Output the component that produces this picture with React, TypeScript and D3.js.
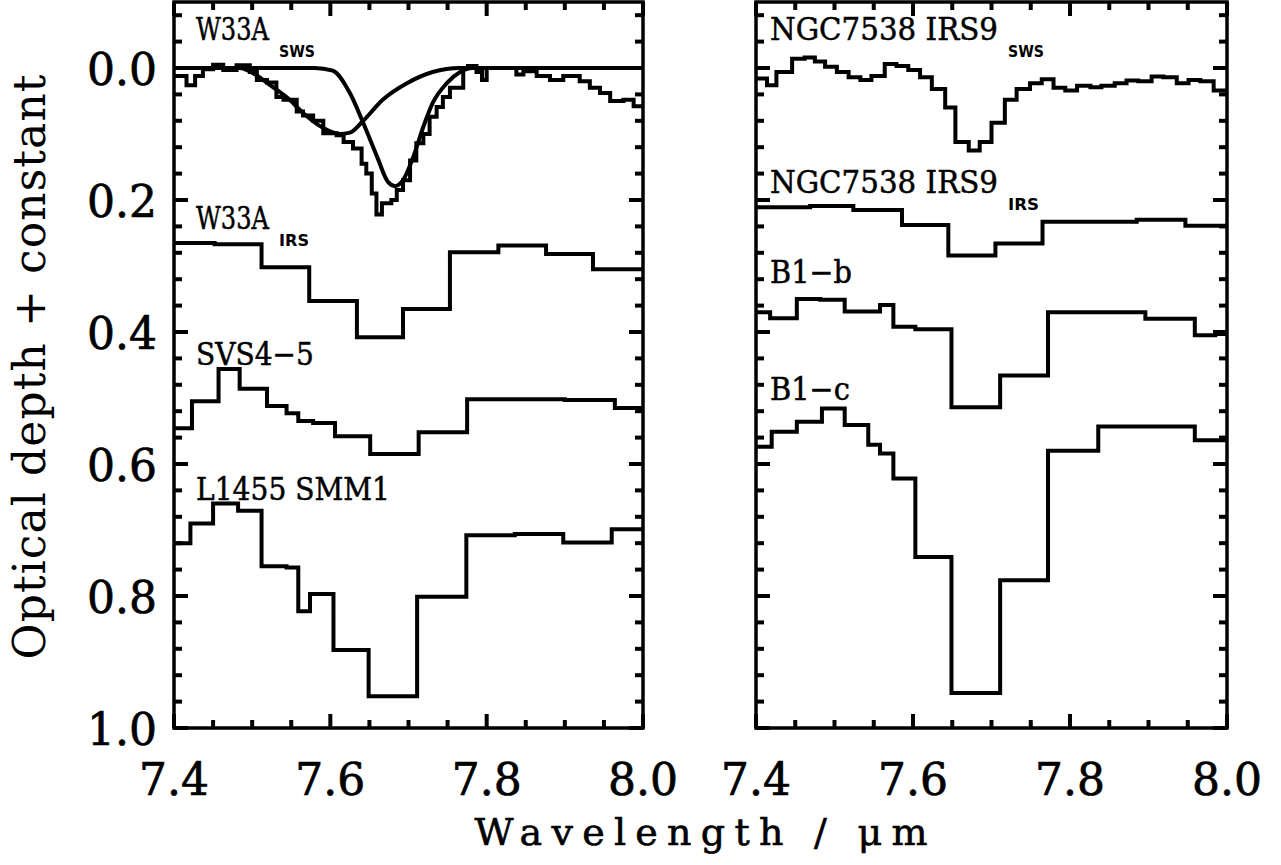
import * as d3 from 'd3';

// ---- axis ticks ----
const xMajorTicks = [7.4, 7.6, 7.8, 8.0];
const xTickLabels = ['7.4', '7.6', '7.8', '8.0'];
const xMinorTicks = [7.45, 7.5, 7.55, 7.65, 7.7, 7.75, 7.85, 7.9, 7.95];
const yMajorTicks = [0, 0.2, 0.4, 0.6, 0.8, 1.0];
const yTickLabels = ['0.0', '0.2', '0.4', '0.6', '0.8', '1.0'];
const yMinorTicks = [-0.08, -0.04, 0.04, 0.08, 0.12, 0.16, 0.24, 0.28, 0.32, 0.36, 0.44, 0.48, 0.52, 0.56, 0.64, 0.68, 0.72, 0.76, 0.84, 0.88, 0.92, 0.96];

// ---- left panel spectra (bin edges + optical depth) ----
const w33aSwsEdges = [7.400, 7.416, 7.427, 7.437, 7.450, 7.463, 7.480, 7.497, 7.506, 7.519, 7.531, 7.540, 7.557, 7.565, 7.578, 7.591, 7.608, 7.617, 7.629, 7.640, 7.646, 7.653, 7.659, 7.666, 7.678, 7.685, 7.693, 7.702, 7.710, 7.719, 7.727, 7.736, 7.744, 7.753, 7.770, 7.776, 7.787, 7.794, 7.800, 7.838, 7.847, 7.864, 7.881, 7.898, 7.919, 7.932, 7.945, 7.958, 7.975, 7.988, 8.000];
const w33aSwsTau = [0.012, 0.026, 0.012, 0.002, -0.005, 0.003, -0.004, 0.006, 0.018, 0.022, 0.044, 0.048, 0.066, 0.072, 0.080, 0.099, 0.102, 0.112, 0.122, 0.145, 0.160, 0.190, 0.222, 0.205, 0.200, 0.185, 0.170, 0.140, 0.114, 0.100, 0.074, 0.059, 0.044, 0.030, 0.000, -0.003, 0.006, 0.018, 0.000, 0.010, 0.005, 0.012, 0.018, 0.012, 0.020, 0.030, 0.038, 0.050, 0.048, 0.058];

// fit components over W33A SWS
const broadFitWave = [7.400, 7.484, 7.497, 7.523, 7.548, 7.565, 7.591, 7.612, 7.625, 7.642, 7.667, 7.698, 7.731, 7.766, 8.000];
const broadFitTau = [0, 0, 0.005, 0.026, 0.048, 0.068, 0.091, 0.100, 0.098, 0.080, 0.048, 0.023, 0.006, 0, 0];
const narrowFitWave = [7.400, 7.580, 7.603, 7.625, 7.642, 7.660, 7.674, 7.683, 7.693, 7.706, 7.719, 7.731, 7.749, 7.766, 7.782, 8.000];
const narrowFitTau = [0, 0, 0.004, 0.038, 0.083, 0.135, 0.173, 0.179, 0.170, 0.135, 0.089, 0.053, 0.023, 0.006, 0, 0];

const w33aIrsEdges = [7.400, 7.452, 7.512, 7.573, 7.634, 7.693, 7.753, 7.815, 7.876, 7.936, 8.000];
const w33aIrsTau = [0.265, 0.267, 0.302, 0.353, 0.408, 0.365, 0.279, 0.269, 0.282, 0.305];

const svs45Edges = [7.400, 7.423, 7.457, 7.484, 7.519, 7.544, 7.559, 7.578, 7.606, 7.651, 7.713, 7.775, 7.900, 7.964, 8.000];
const svs45Tau = [0.546, 0.505, 0.456, 0.486, 0.512, 0.523, 0.535, 0.538, 0.558, 0.585, 0.552, 0.502, 0.503, 0.515];

const l1455Edges = [7.400, 7.421, 7.450, 7.482, 7.512, 7.544, 7.559, 7.574, 7.604, 7.649, 7.711, 7.774, 7.836, 7.898, 7.960, 8.000];
const l1455Tau = [0.720, 0.690, 0.660, 0.671, 0.755, 0.757, 0.823, 0.797, 0.882, 0.952, 0.801, 0.708, 0.706, 0.719, 0.699];

// ---- right panel spectra ----
const ngcSwsEdges = [7.400, 7.414, 7.426, 7.446, 7.462, 7.475, 7.488, 7.503, 7.518, 7.533, 7.547, 7.564, 7.579, 7.594, 7.609, 7.624, 7.641, 7.654, 7.671, 7.685, 7.700, 7.717, 7.732, 7.749, 7.764, 7.779, 7.794, 7.809, 7.826, 7.840, 7.857, 7.872, 7.887, 7.904, 7.919, 7.936, 7.951, 7.966, 7.983, 8.000];
const ngcSwsTau = [0.016, 0.026, 0.006, -0.014, -0.016, -0.010, -0.002, 0.006, 0.014, 0.018, 0.012, -0.006, -0.003, 0.003, 0.014, 0.032, 0.060, 0.112, 0.125, 0.112, 0.083, 0.048, 0.032, 0.023, 0.017, 0.030, 0.034, 0.027, 0.029, 0.027, 0.023, 0.019, 0.020, 0.013, 0.014, 0.023, 0.018, 0.020, 0.034];

const ngcIrsEdges = [7.400, 7.469, 7.524, 7.586, 7.645, 7.705, 7.765, 7.885, 7.947, 8.000];
const ngcIrsTau = [0.211, 0.209, 0.215, 0.238, 0.284, 0.266, 0.233, 0.230, 0.239];

const b1bEdges = [7.400, 7.418, 7.452, 7.482, 7.513, 7.558, 7.575, 7.603, 7.649, 7.711, 7.772, 7.834, 7.896, 7.959, 7.985, 8.000];
const b1bTau = [0.370, 0.379, 0.350, 0.351, 0.369, 0.359, 0.392, 0.396, 0.514, 0.466, 0.370, 0.370, 0.380, 0.405, 0.403];

const b1cEdges = [7.400, 7.420, 7.452, 7.484, 7.513, 7.543, 7.558, 7.575, 7.603, 7.649, 7.711, 7.772, 7.836, 7.898, 7.959, 8.000];
const b1cTau = [0.574, 0.551, 0.536, 0.516, 0.541, 0.571, 0.584, 0.622, 0.741, 0.947, 0.776, 0.580, 0.543, 0.543, 0.564];

// ---- source labels ----
const leftNames = ['W33A', 'W33A', 'SVS4\u22125', 'L1455  SMM1'];
const leftSubs = ['SWS', 'IRS', '', ''];
const rightNames = ['NGC7538  IRS9', 'NGC7538  IRS9', 'B1\u2212b', 'B1\u2212c'];
const rightSubs = ['SWS', 'IRS', '', ''];

// label layout: baseline in tau units, widths in px
const leftLabelLayout = [
  { tau: -0.042, w: 73, subW: 36 },
  { tau: 0.244, w: 73, subW: 30 },
  { tau: 0.45, w: 118, subW: 0 },
  { tau: 0.655, w: 194, subW: 0 },
];
const rightLabelLayout = [
  { tau: -0.042, w: 228, subW: 36 },
  { tau: 0.189, w: 228, subW: 31 },
  { tau: 0.326, w: 82, subW: 0 },
  { tau: 0.503, w: 80, subW: 0 },
];

const W = 1281;
const H = 865;
const TOP = 2;
const BOTTOM = 728;
const SERIF = '"DejaVu Serif", "Liberation Serif", serif';
const PANELS = [
  { id: 'clipL', x0: 174, x1: 643 },
  { id: 'clipR', x0: 756, x1: 1227 },
];

const yScale = d3.scaleLinear().domain([-0.1, 1.0]).range([TOP, BOTTOM]);
const xScaleFor = (x0: number, x1: number) => d3.scaleLinear().domain([7.4, 8.0]).range([x0, x1]);

// mirrored tick marks of one panel, as small filled bars
function tickBarsFor(x0: number, x1: number) {
  const x = xScaleFor(x0, x1);
  const y = yScale;
  const majorLen = 14;
  const minorLen = 8;
  const tw = 4;
  const bars: { x: number; y: number; w: number; h: number }[] = [];
  const addX = (t: number, len: number) => {
    bars.push({ x: x(t) - tw / 2, y: BOTTOM - len, w: tw, h: len });
    bars.push({ x: x(t) - tw / 2, y: TOP, w: tw, h: len });
  };
  const addY = (t: number, len: number) => {
    bars.push({ x: x0, y: y(t) - tw / 2, w: len, h: tw });
    bars.push({ x: x1 - len, y: y(t) - tw / 2, w: len, h: tw });
  };
  xMajorTicks.forEach((t) => addX(t, majorLen));
  xMinorTicks.forEach((t) => addX(t, minorLen));
  yMajorTicks.forEach((t) => addY(t, majorLen));
  yMinorTicks.forEach((t) => addY(t, minorLen));
  return bars;
}

type PanelProps = {
  id: string;
  x0: number;
  x1: number;
  steps: { edges: number[]; tau: number[] }[];
  curves: { wave: number[]; tau: number[] }[];
  names: string[];
  subs: string[];
  layout: { tau: number; w: number; subW: number }[];
  labelOffset: number;
  showYLabels: boolean;
};

function Panel({ id, x0, x1, steps, curves, names, subs, layout, labelOffset, showYLabels }: PanelProps) {
  const x = xScaleFor(x0, x1);
  const y = yScale;

  const stepLine = d3
    .line<[number, number]>()
    .x((d) => x(d[0]))
    .y((d) => y(d[1]))
    .curve(d3.curveStepAfter);

  const smoothLine = d3
    .line<[number, number]>()
    .x((d) => x(d[0]))
    .y((d) => y(d[1]))
    .curve(d3.curveMonotoneX);

  return (
    <g>
      <defs>
        <clipPath id={id}>
          <rect x={x0} y={TOP} width={x1 - x0} height={BOTTOM - TOP} />
        </clipPath>
      </defs>

      <g clipPath={`url(#${id})`} fill="none" stroke="#000" strokeWidth={4}>
        {curves.map((c, i) => (
          <path key={'c' + i} d={smoothLine(c.wave.map((w, j) => [w, c.tau[j]] as [number, number])) || ''} />
        ))}
        {steps.map((s, i) => {
          const pts: [number, number][] = s.tau.map((t, j) => [s.edges[j], t]);
          pts.push([s.edges[s.edges.length - 1], s.tau[s.tau.length - 1]]);
          return <path key={'s' + i} d={stepLine(pts) || ''} />;
        })}
      </g>

      {/* tick labels */}
      {xMajorTicks.map((t, i) => (
        <text key={'xl' + t} x={x(t)} y={795} textAnchor="middle" fontFamily={SERIF} fontSize={44} stroke="#000" strokeWidth={0.7}>
          {xTickLabels[i]}
        </text>
      ))}
      {showYLabels &&
        yMajorTicks.map((t, i) => (
          <text key={'yl' + t} x={x0 - 17} y={y(t) + 17} textAnchor="end" fontFamily={SERIF} fontSize={44} stroke="#000" strokeWidth={0.7}>
            {yTickLabels[i]}
          </text>
        ))}

      {/* source labels */}
      {names.map((n, i) => {
        const L = layout[i];
        const bx = x0 + labelOffset;
        const by = y(L.tau);
        return (
          <g key={'n' + i}>
            <text x={bx} y={by} fontFamily={SERIF} fontSize={31} textLength={L.w} lengthAdjust="spacingAndGlyphs" stroke="#000" strokeWidth={0.5}>
              {n}
            </text>
            {subs[i] && (
              <text
                x={bx + L.w + 10}
                y={by + 17}
                fontFamily='"DejaVu Sans", sans-serif'
                fontWeight="bold"
                fontSize={16}
                textLength={L.subW}
                lengthAdjust="spacingAndGlyphs"
              >
                {subs[i]}
              </text>
            )}
          </g>
        );
      })}
    </g>
  );
}

export default function App() {
  return (
    <div style={{ position: 'absolute', left: 0, top: 0, width: W, height: H, background: '#fff' }}>
      <svg width={W} height={H} viewBox={`0 0 ${W} ${H}`} style={{ display: 'block' }}>
        <rect width={W} height={H} fill="#fff" />
        <Panel
          id="clipL"
          x0={174}
          x1={643}
          steps={[
            { edges: w33aSwsEdges, tau: w33aSwsTau },
            { edges: w33aIrsEdges, tau: w33aIrsTau },
            { edges: svs45Edges, tau: svs45Tau },
            { edges: l1455Edges, tau: l1455Tau },
          ]}
          curves={[
            { wave: broadFitWave, tau: broadFitTau },
            { wave: narrowFitWave, tau: narrowFitTau },
          ]}
          names={leftNames}
          subs={leftSubs}
          layout={leftLabelLayout}
          labelOffset={22}
          showYLabels={true}
        />
        <Panel
          id="clipR"
          x0={756}
          x1={1227}
          steps={[
            { edges: ngcSwsEdges, tau: ngcSwsTau },
            { edges: ngcIrsEdges, tau: ngcIrsTau },
            { edges: b1bEdges, tau: b1bTau },
            { edges: b1cEdges, tau: b1cTau },
          ]}
          curves={[]}
          names={rightNames}
          subs={rightSubs}
          layout={rightLabelLayout}
          labelOffset={14}
          showYLabels={false}
        />
        <text x={701} y={845} textAnchor="middle" fontFamily={SERIF} fontSize={38} textLength={453} lengthAdjust="spacing" stroke="#000" strokeWidth={0.6}>
          Wavelength / {'\u03bc'}m
        </text>
        <text
          transform="translate(45,367) rotate(-90)"
          textAnchor="middle"
          fontFamily={SERIF}
          fontSize={44}
          textLength={585}
          lengthAdjust="spacing"
        >
          Optical depth + constant
        </text>

        {/* frames and ticks drawn last, on top of everything */}
        {PANELS.map((p) => (
          <g key={'f' + p.id}>
            {tickBarsFor(p.x0, p.x1).map((b, i) => (
              <rect key={i} x={b.x} y={b.y} width={b.w} height={b.h} fill="#000" />
            ))}
            <rect x={p.x0} y={TOP} width={p.x1 - p.x0} height={BOTTOM - TOP} fill="none" stroke="#000" strokeWidth={3.5} />
          </g>
        ))}
      </svg>
    </div>
  );
}
